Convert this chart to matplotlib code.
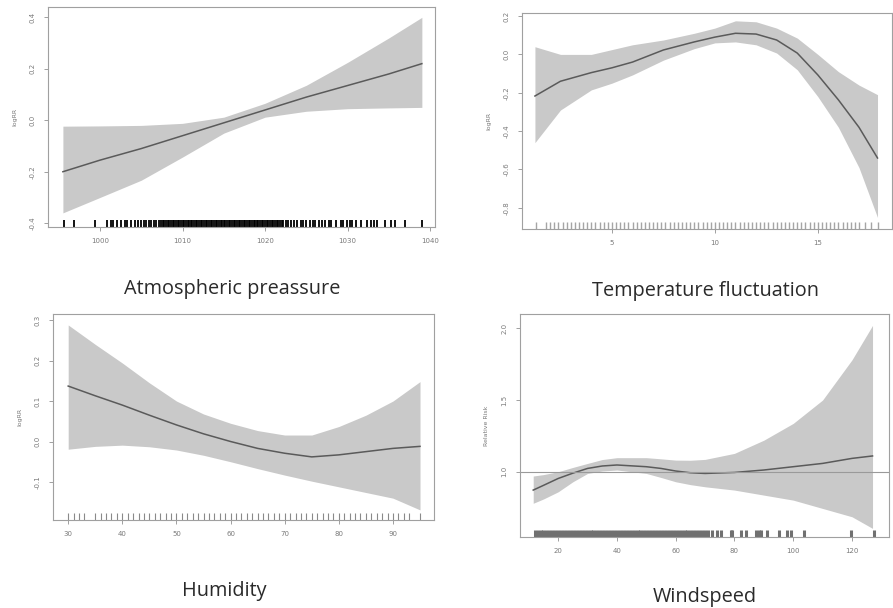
import matplotlib.pyplot as plt

plt.rcParams['font.family'] = ['DejaVu Sans']

# Atmospheric pressure panel
pres_x = [995.5, 1000, 1005, 1010, 1015, 1020, 1025, 1030, 1035, 1039]
pres_fit = [-0.20, -0.155, -0.11, -0.06, -0.01, 0.04, 0.09, 0.135, 0.18, 0.22]
pres_hi = [-0.023, -0.022, -0.02, -0.012, 0.012, 0.066, 0.136, 0.225, 0.32, 0.40]
pres_lo = [-0.36, -0.30, -0.233, -0.143, -0.05, 0.012, 0.035, 0.045, 0.048, 0.05]
pres_rug = [995.6, 996.8, 999.4, 1000.8, 1001.3, 1001.6, 1002.0, 1002.5, 1003.0, 1003.3,
            1003.8, 1004.2, 1004.6, 1005.0, 1005.3, 1005.6, 1005.9, 1006.2, 1006.5,
            1006.8, 1007.1, 1007.4, 1007.6, 1007.8, 1008.0, 1008.2, 1008.4, 1008.6,
            1008.8, 1009.0, 1009.2, 1009.4, 1009.6, 1009.8, 1010.0, 1010.2, 1010.4,
            1010.6, 1010.8, 1011.0, 1011.2, 1011.4, 1011.6, 1011.8, 1012.0, 1012.2,
            1012.4, 1012.6, 1012.8, 1013.0, 1013.2, 1013.4, 1013.6, 1013.8, 1014.0,
            1014.2, 1014.4, 1014.6, 1014.8, 1015.0, 1015.2, 1015.4, 1015.6, 1015.8,
            1016.0, 1016.2, 1016.4, 1016.6, 1016.8, 1017.0, 1017.2, 1017.4, 1017.6,
            1017.8, 1018.0, 1018.2, 1018.4, 1018.6, 1018.8, 1019.0, 1019.2, 1019.4,
            1019.6, 1019.8, 1020.0, 1020.2, 1020.4, 1020.6, 1020.8, 1021.0, 1021.2,
            1021.4, 1021.6, 1021.8, 1022.0, 1022.2, 1022.5, 1022.8, 1023.2, 1023.5,
            1023.9, 1024.3, 1024.6, 1025.0, 1025.4, 1025.8, 1026.1, 1026.5, 1026.9,
            1027.3, 1027.7, 1028.0, 1028.6, 1029.2, 1029.5, 1029.9, 1030.3, 1030.5,
            1031.0, 1031.6, 1032.4, 1032.8, 1033.2, 1033.6, 1034.5, 1035.2, 1035.8,
            1037.0, 1039.0]

# Temperature fluctuation panel
temp_x = [1.26, 2.5, 4.0, 5.0, 6.0, 7.5, 9.0, 10.0, 11.0, 12.0, 13.0, 14.0, 15.0, 16.0, 17.0, 17.9]
temp_fit = [-0.217, -0.14, -0.095, -0.07, -0.04, 0.023, 0.065, 0.09, 0.11, 0.106, 0.075,
            0.007, -0.107, -0.237, -0.38, -0.54]
temp_hi = [0.04, 0.0, 0.0, 0.025, 0.05, 0.075, 0.11, 0.137, 0.175, 0.17, 0.137, 0.085,
           0.0, -0.09, -0.16, -0.21]
temp_lo = [-0.46, -0.29, -0.185, -0.15, -0.107, -0.03, 0.03, 0.06, 0.065, 0.05, 0.007,
           -0.08, -0.22, -0.38, -0.59, -0.85]
temp_rug = [1.3, 1.8, 2.0, 2.2, 2.4, 2.6, 2.8, 3.0, 3.2, 3.4, 3.6, 3.8, 4.0, 4.2, 4.4, 4.6,
            4.8, 5.0, 5.2, 5.4, 5.6, 5.8, 6.0, 6.2, 6.4, 6.6, 6.8, 7.0, 7.2, 7.4, 7.6, 7.8,
            8.0, 8.2, 8.4, 8.6, 8.8, 9.0, 9.2, 9.4, 9.6, 9.8, 10.0, 10.2, 10.4, 10.6, 10.8,
            11.0, 11.2, 11.4, 11.6, 11.8, 12.0, 12.2, 12.4, 12.6, 12.8, 13.0, 13.2, 13.4,
            13.6, 13.8, 14.0, 14.2, 14.4, 14.6, 14.8, 15.0, 15.2, 15.4, 15.6, 15.8, 16.0,
            16.2, 16.4, 16.6, 16.8, 17.0, 17.3, 17.6, 17.9]

# Humidity panel
hum_x = [30, 35, 40, 45, 50, 55, 60, 65, 70, 75, 80, 85, 90, 95]
hum_fit = [0.137, 0.113, 0.09, 0.065, 0.041, 0.019, 0.0, -0.017, -0.029, -0.038, -0.033,
           -0.025, -0.017, -0.012]
hum_hi = [0.288, 0.24, 0.194, 0.145, 0.10, 0.068, 0.045, 0.027, 0.016, 0.016, 0.037,
          0.065, 0.10, 0.148]
hum_lo = [-0.019, -0.012, -0.009, -0.013, -0.021, -0.034, -0.05, -0.067, -0.083, -0.098,
          -0.112, -0.126, -0.14, -0.169]
hum_rug = [30, 31, 32, 33, 35, 36, 37, 38, 39, 40, 41, 42, 43, 44, 45, 46, 47, 48, 49, 50,
           51, 52, 53, 54, 55, 56, 57, 58, 59, 60, 61, 62, 63, 64, 65, 66, 67, 68, 69, 70,
           71, 72, 73, 74, 75, 76, 77, 78, 79, 80, 81, 82, 83, 84, 85, 86, 87, 88, 89, 90,
           91, 92, 93, 95]

# Windspeed panel
wind_x = [11.5, 15, 20, 25, 30, 35, 40, 50, 55, 60, 65, 70, 80, 90, 100, 110, 120, 127]
wind_fit = [0.872, 0.905, 0.953, 0.99, 1.023, 1.04, 1.047, 1.035, 1.023, 1.005, 0.993,
            0.988, 0.995, 1.012, 1.035, 1.058, 1.093, 1.11]
wind_hi = [0.97, 0.98, 1.0, 1.03, 1.058, 1.085, 1.098, 1.098, 1.09, 1.081, 1.08, 1.086,
           1.128, 1.22, 1.337, 1.5, 1.78, 2.02]
wind_lo = [0.78, 0.81, 0.86, 0.93, 0.988, 1.005, 1.012, 0.988, 0.96, 0.93, 0.91, 0.895,
           0.872, 0.837, 0.802, 0.744, 0.686, 0.605]
wind_rug = [12, 13, 14, 15, 16, 17, 18, 19, 20, 21, 22, 23, 24, 25, 26, 27, 28, 29, 30, 31,
            32, 33, 34, 35, 36, 37, 38, 39, 40, 41, 42, 43, 44, 45, 46, 47, 48, 49, 50, 51,
            52, 53, 54, 55, 56, 57, 58, 59, 60, 61, 62, 63, 64, 65, 66, 67, 68, 69, 70,
            71, 72.5, 74, 75.3, 78.7, 79.3, 82.1, 83.8, 87.2, 88.2, 88.9, 91.2, 95.1, 98.0,
            99.2, 103.6, 119.6, 127.5]

FILL = '#c9c9c9'
LINE = '#5a5a5a'
AXC = '#a0a0a0'
TXT = '#7a7a7a'

fig = plt.figure(figsize=(8.93, 6.08), dpi=100)


def panel(rect, x, fit, lo, hi, rug, xlim, ylim, xticks, yticks, ylabel, rug_color='black',
          rug_lw=1.0):
    ax = fig.add_axes(rect)
    ax.fill_between(x, lo, hi, color=FILL, lw=0)
    ax.plot(x, fit, color=LINE, lw=1.1)
    ax.vlines(rug, 0, 0.032, transform=ax.get_xaxis_transform(), color=rug_color, lw=rug_lw)
    ax.set_xlim(*xlim)
    ax.set_ylim(*ylim)
    ax.set_xticks(xticks)
    ax.set_yticks(yticks)
    ax.set_yticklabels(['%.1f' % v for v in yticks], rotation=90, va='center')
    for s in ax.spines.values():
        s.set_color(AXC)
        s.set_linewidth(0.8)
    ax.tick_params(colors=AXC, labelcolor=TXT, labelsize=5, length=3, width=0.7)
    ax.tick_params(axis='x', pad=5)
    ax.tick_params(axis='y', pad=6)
    ax.set_ylabel(ylabel, fontsize=4.5, color=TXT, labelpad=9)
    return ax


ax1 = panel([0.0538, 0.6266, 0.4334, 0.3618], pres_x, pres_fit, pres_lo, pres_hi, pres_rug,
            (993.7, 1040.6), (-0.415, 0.44), [1000, 1010, 1020, 1030, 1040],
            [-0.4, -0.2, 0.0, 0.2, 0.4], 'logRR', rug_lw=1.3)

ax2 = panel([0.5845, 0.6234, 0.4143, 0.3553], temp_x, temp_fit, temp_lo, temp_hi, temp_rug,
            (0.63, 18.6), (-0.91, 0.216), [5, 10, 15],
            [-0.8, -0.6, -0.4, -0.2, 0.0, 0.2], 'logRR', rug_color='#a5a5a5', rug_lw=1.0)

ax3 = panel([0.0594, 0.1447, 0.4267, 0.3388], hum_x, hum_fit, hum_lo, hum_hi, hum_rug,
            (27.2, 97.6), (-0.194, 0.315), [30, 40, 50, 60, 70, 80, 90],
            [-0.1, 0.0, 0.1, 0.2, 0.3], 'logRR', rug_color='#8a8a8a', rug_lw=0.8)

ax4 = panel([0.5823, 0.1168, 0.4132, 0.3668], wind_x, wind_fit, wind_lo, wind_hi, wind_rug,
            (7.0, 132.6), (0.545, 2.10), [20, 40, 60, 80, 100, 120],
            [1.0, 1.5, 2.0], 'Relative Risk', rug_color='#707070', rug_lw=2.2)
ax4.axhline(1.0, color='#9a9a9a', lw=0.8)

title_kw = dict(ha='center', va='center', fontsize=14.3, color='#2a2a2a', family='Open Sans')
fig.text(232 / 893, 1 - 289 / 608, 'Atmospheric preassure', **title_kw)
fig.text(705 / 893, 1 - 291 / 608, 'Temperature fluctuation', **title_kw)
fig.text(224 / 893, 1 - 591 / 608, 'Humidity', **title_kw)
fig.text(705 / 893, 1 - 597 / 608, 'Windspeed', **title_kw)

fig.savefig('out.png', dpi=100)
